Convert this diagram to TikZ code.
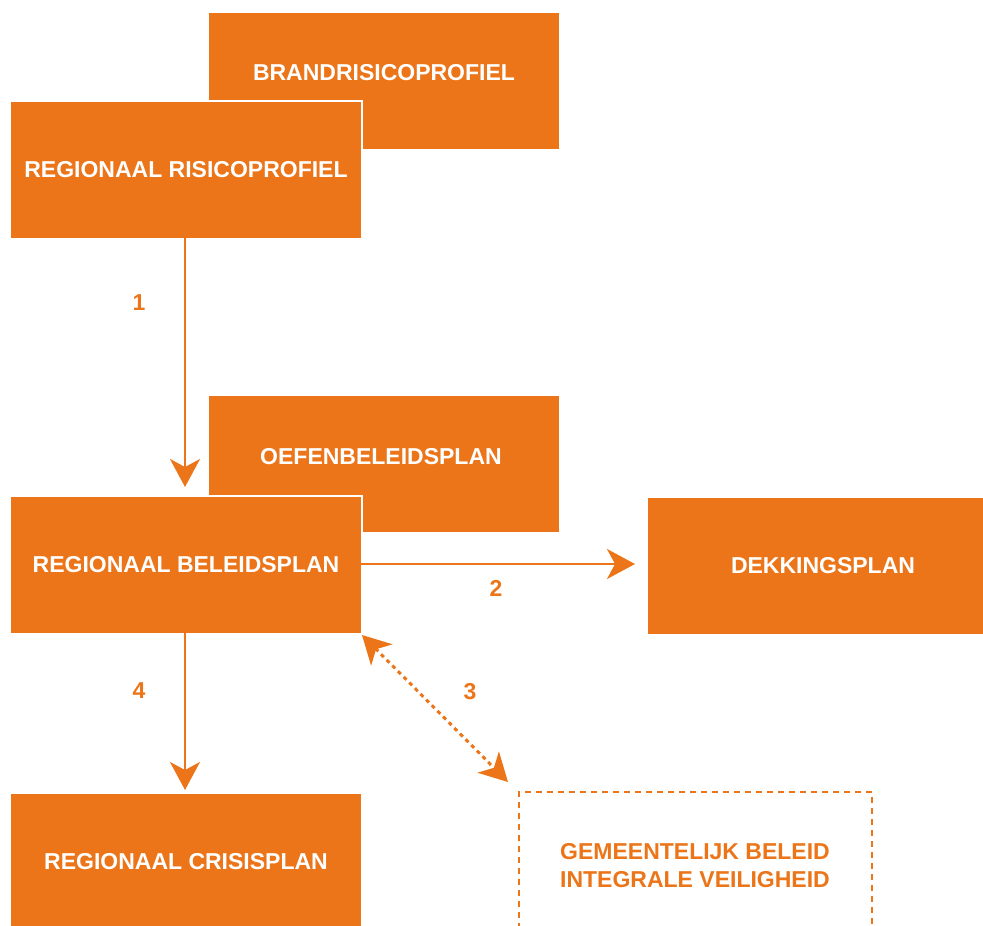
\documentclass[tikz,border=0pt]{standalone}
\usepackage{fontspec}
\setmainfont{Liberation Sans}
\usetikzlibrary{arrows.meta}
\definecolor{oranje}{RGB}{235,117,24}
\tikzset{
  box/.style={rectangle, fill=oranje, draw=white, line width=2pt, minimum width=352pt, minimum height=138pt, inner sep=0pt, anchor=north west},
  boxtext/.style={text=white, font=\fontsize{23}{27}\selectfont\bfseries, inner sep=0pt},
  numlabel/.style={text=oranje, font=\fontsize{23}{27}\selectfont\bfseries, inner sep=0pt},
  conn/.style={draw=oranje, line width=2pt, -{Stealth[length=28pt,width=30pt,inset=8pt]}},
  dotconn/.style={draw=oranje, line width=3pt, dash pattern=on 4pt off 4pt, {Stealth[length=28pt,width=30pt,inset=8pt]}-{Stealth[length=28pt,width=30pt,inset=8pt]}}
}
\begin{document}
\begin{tikzpicture}[x=1pt,y=-1pt]
\useasboundingbox (0,0) rectangle (983,926);
\clip (0,0) rectangle (983,926);
% back boxes
\node[box, draw=none, minimum width=350pt, minimum height=136pt] (brp) at (208,12) {};
\node[boxtext] (brptxt) at (384,73) {BRANDRISICOPROFIEL};
\node[box] (rrp) at (9,100) {};
\node[boxtext] at (rrp.center) {REGIONAAL RISICOPROFIEL};
\node[box, draw=none, minimum width=350pt, minimum height=136pt] (obp) at (208,395) {};
\node[boxtext] (obptxt) at (381,457) {OEFENBELEIDSPLAN};
\node[box] (rbp) at (9,495) {};
\node[boxtext] at (rbp.center) {REGIONAAL BELEIDSPLAN};
\node[box, draw=none, minimum width=350pt, minimum height=136pt] (dkp) at (647,497) {};
\node[boxtext] at (dkp.center) {DEKKINGSPLAN};
\node[box, draw=none, minimum width=350pt, minimum height=136pt] (rcp) at (10,793) {};
\node[boxtext] at (rcp.center) {REGIONAAL CRISISPLAN};
% dashed box
\coordinate (gbA) at (519,940);
\coordinate (gbB) at (519,792);
\coordinate (gbC) at (872,792);
\coordinate (gbD) at (872,940);
\draw[oranje, line width=2pt, dash pattern=on 6pt off 5pt] (gbA) -- (gbB) -- (gbC) -- (gbD);
\node[text=oranje, font=\fontsize{23}{28}\selectfont\bfseries, align=center, inner sep=0pt] (gbi) at (695,866) {GEMEENTELIJK BELEID\\INTEGRALE VEILIGHEID};
% connectors
\coordinate (a1s) at (185,238);
\coordinate (a1e) at (185,487);
\draw[conn] (a1s) -- (a1e);
\coordinate (a2s) at (361,564);
\coordinate (a2e) at (635,564);
\draw[conn] (a2s) -- (a2e);
\coordinate (a4s) at (185,633);
\coordinate (a4e) at (185,790);
\draw[conn] (a4s) -- (a4e);
\coordinate (a3s) at (362,635);
\coordinate (a3e) at (508,782);
\draw[dotconn] (a3s) -- (a3e);
% labels
\node[numlabel] (l1) at (139,303) {1};
\node[numlabel] (l2) at (496,588) {2};
\node[numlabel] (l3) at (470,692) {3};
\node[numlabel] (l4) at (139,691) {4};
\end{tikzpicture}
\end{document}
